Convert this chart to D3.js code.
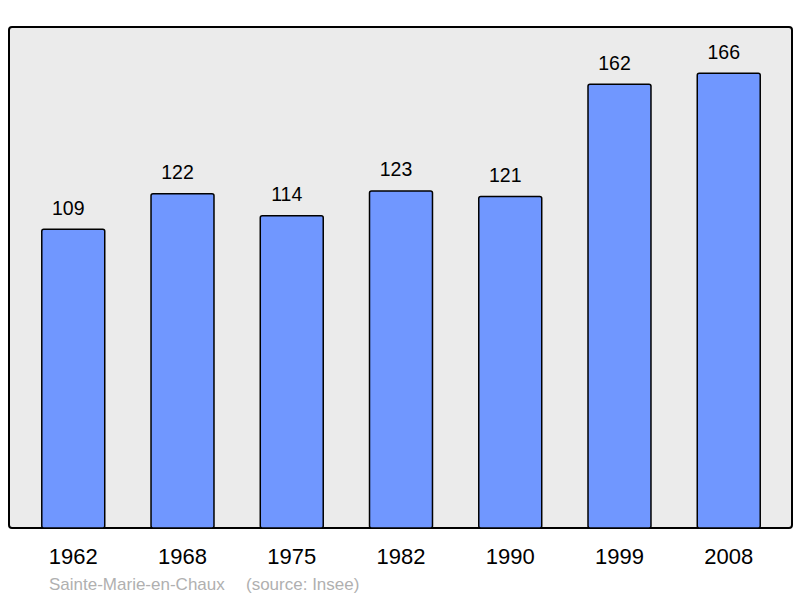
<!DOCTYPE html>
<html><head><meta charset="utf-8">
<script src="https://cdn.jsdelivr.net/npm/d3@7"></script>
<style>body{margin:0;background:#fff}svg{display:block}</style>
</head><body>
<svg id="c" width="800" height="598"></svg>
<script>
const years = ["1962","1968","1975","1982","1990","1999","2008"];
const population = [109,122,114,123,121,162,166];
const place = "Sainte-Marie-en-Chaux";
const source = "(source: Insee)";

const svg = d3.select("#c");
const font = "Liberation Sans, Arial, sans-serif";
const panel = {x0: 9, y0: 27, x1: 792, y1: 528};

svg.append("rect").attr("x", panel.x0).attr("y", panel.y0)
  .attr("width", panel.x1 - panel.x0).attr("height", panel.y1 - panel.y0)
  .attr("rx", 3).attr("fill", "#ebebeb").attr("stroke", "#000").attr("stroke-width", 2);

const x = d3.scaleBand().domain(years).range([9, 793]).paddingInner(0.4236).paddingOuter(0.3);
const y = d3.scaleLinear().domain([0, 182.85]).range([528, 27]);

svg.append("g").selectAll("rect").data(years).join("rect")
  .attr("x", d => x(d)).attr("y", (d,i) => y(population[i]))
  .attr("width", x.bandwidth()).attr("height", (d,i) => y(0) - y(population[i]))
  .attr("rx", 2).attr("fill", "#7097ff").attr("stroke", "#000").attr("stroke-width", 1.5);

svg.append("g").selectAll("text").data(years).join("text")
  .attr("x", d => x(d) + x.bandwidth()/2 - 5).attr("y", (d,i) => y(population[i]) - 14.5)
  .attr("text-anchor", "middle").attr("font-family", font).attr("font-size", 19.5)
  .attr("fill", "#000").text((d,i) => population[i]);

const xAxis = d3.axisBottom(x).tickSize(0).tickPadding(0);
const ax = svg.append("g").attr("transform", "translate(0,548)").call(xAxis);
ax.select(".domain").remove();
ax.selectAll("text").attr("font-family", font).attr("font-size", 22).attr("fill", "#000")
  .attr("dy", "0.71em").attr("y", 0);

svg.append("text").attr("x", 49).attr("y", 590).attr("font-family", font).attr("font-size", 17)
  .attr("fill", "#b0b0b0").text(place);
svg.append("text").attr("x", 246).attr("y", 590).attr("font-family", font).attr("font-size", 17)
  .attr("fill", "#b0b0b0").text(source);
</script>
</body></html>
